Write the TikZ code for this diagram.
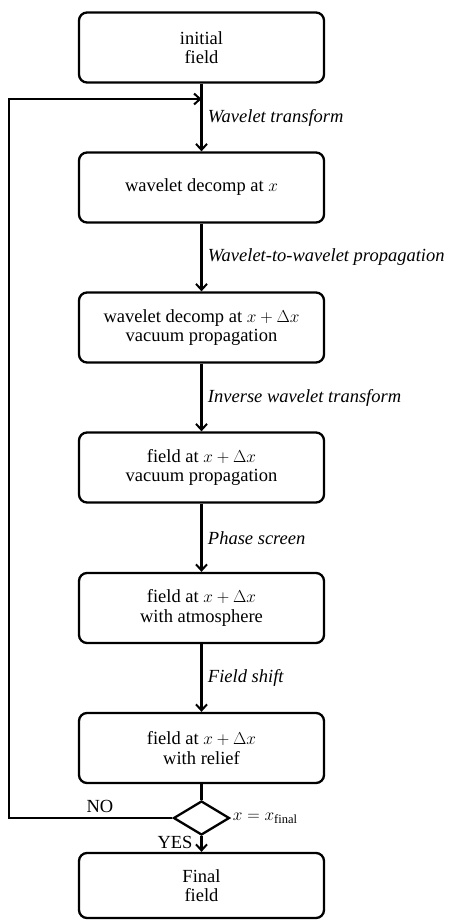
\documentclass[tikz,border=0pt]{standalone}
\usepackage{fontspec}
\setmainfont{Liberation Serif}
\usetikzlibrary{arrows.meta,shapes.geometric}
\begin{document}
\begin{tikzpicture}[x=1pt,y=-1pt,
  font=\fontsize{18.5}{19.5}\selectfont,
  stepbox/.style={draw,line width=2.3pt,rounded corners=8pt,minimum width=245pt,minimum height=70pt,align=center,inner sep=0pt},
  conn/.style={line width=2.3pt},
  arr/.style={conn,-{Straight Barb[length=6pt,width=11pt,line width=2pt]}},
  lab/.style={anchor=west,font=\fontsize{18.5}{19.5}\selectfont\itshape}]
\useasboundingbox (0,0) rectangle (448,920);
\node[stepbox] (b1) at (201.5,47.5) {initial\\field};
\node[stepbox] (b2) at (201.5,187.5) {wavelet decomp at $x$};
\node[stepbox] (b3) at (201.5,327.5) {wavelet decomp at $x+\Delta x$\\vacuum propagation};
\node[stepbox] (b4) at (201.5,467.5) {field at $x+\Delta x$\\vacuum propagation};
\node[stepbox] (b5) at (201.5,608) {field at $x+\Delta x$\\with atmosphere};
\node[stepbox] (b6) at (201.5,748) {field at $x+\Delta x$\\with relief};
\node[draw,diamond,line width=2.3pt,minimum width=56pt,minimum height=34pt,inner sep=0pt,aspect=1.65] (d) at (201.5,818) {};
\node[stepbox,minimum height=65pt] (b7) at (201.5,885.5) {Final\\field};
\coordinate (j) at (201.5,99);
\coordinate (lb) at (9,818);
\coordinate (lt) at (9,99);
\draw[arr] (b1) -- (b2) node[lab,midway,xshift=2pt] {Wavelet transform};
\draw[arr] (b2) -- (b3) node[lab,midway,xshift=2pt] {Wavelet-to-wavelet propagation};
\draw[arr] (b3) -- (b4) node[lab,midway,xshift=2pt] {Inverse wavelet transform};
\draw[arr] (b4) -- (b5) node[lab,midway,xshift=2pt] {Phase screen};
\draw[arr] (b5) -- (b6) node[lab,midway,xshift=2pt] {Field shift};
\draw[conn] (b6) -- (d);
\draw[arr] (d) -- (b7);
\draw[arr,line join=miter] (d.west) -- (lb) -- (lt) -- (j);
\node (no) at (100,806) {NO};
\node (yes) at (175,842) {YES};
\node[anchor=west,inner sep=0pt] (cond) at ([xshift=2pt]d.east) {$x=x_{\hbox{\fontsize{12.5}{13}\selectfont final}}$};
\end{tikzpicture}
\end{document}
